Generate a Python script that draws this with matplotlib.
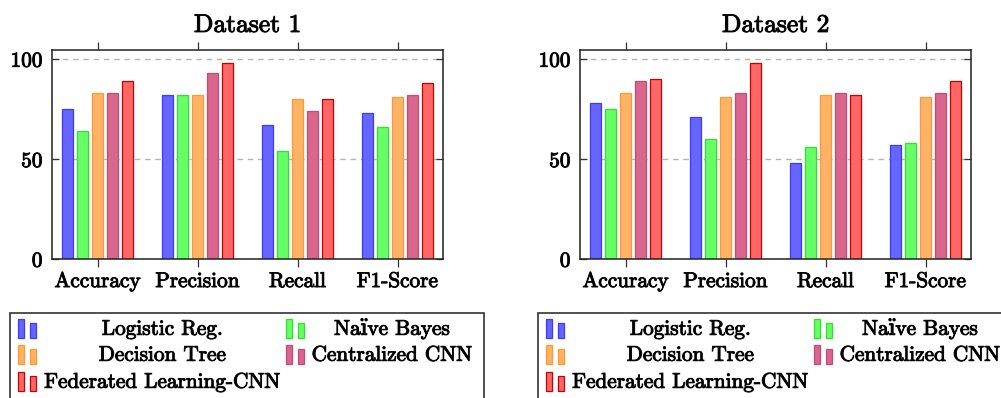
import matplotlib
matplotlib.use("Agg")
import matplotlib.pyplot as plt
import matplotlib.patheffects as pe
import numpy as np
from matplotlib.patches import Rectangle

# scores per metric for each model
metrics = ["Accuracy", "Precision", "Recall", "F1-Score"]
models = ["Logistic Reg.", "Naïve Bayes", "Decision Tree", "Centralized CNN",
          "Federated Learning-CNN"]

ds1_logreg = [75, 82, 67, 73]
ds1_bayes = [64, 82, 54, 66]
ds1_tree = [83, 82, 80, 81]
ds1_ccnn = [83, 93, 74, 82]
ds1_flcnn = [89, 98, 80, 88]

ds2_logreg = [78, 71, 48, 57]
ds2_bayes = [75, 60, 56, 58]
ds2_tree = [83, 81, 82, 81]
ds2_ccnn = [89, 83, 83, 83]
ds2_flcnn = [90, 98, 82, 89]

titles = ["Dataset 1", "Dataset 2"]

# pgfplots-style draw colour / fill colour (colour!60)
edge_colors = ["#3a3aff", "#30e030", "#ff9a33", "#c8487a", "#c80000"]
fill_colors = ["#6666ff", "#66ff66", "#ffb366", "#d9668c", "#ff6666"]

plt.rcParams["font.family"] = ["cmr10", "DejaVu Serif"]
plt.rcParams["font.size"] = 15.3
plt.rcParams["axes.formatter.use_mathtext"] = True

# slightly heavier strokes for the Computer Modern glyphs
heavy = [pe.withStroke(linewidth=0.7, foreground="#111111")]

W, H = 1001, 398
fig = plt.figure(figsize=(W / 100, H / 100), dpi=100)


def px_to_fig(x, y):
    return x / W, 1 - y / H


def draw_panel(left_px, title, series):
    x0, y0 = px_to_fig(left_px, 259)
    ax = fig.add_axes([x0, y0, 391 / W, 209 / H])
    x = np.arange(len(metrics))
    offsets = np.arange(len(series)) - (len(series) - 1) / 2
    for k, vals in enumerate(series):
        ax.bar(x + offsets[k] * 0.15, vals, width=0.118,
               color=fill_colors[k], edgecolor=edge_colors[k], linewidth=0.9)
    ax.set_xlim(-0.455, 3.455)
    ax.set_ylim(0, 104.5)
    ax.set_xticks(x)
    ax.set_xticklabels(metrics)
    ax.set_yticks([0, 50, 100])
    ax.set_axisbelow(True)
    ax.yaxis.grid(True, color="#b4b4b4", linestyle=(0, (4, 3.4)), linewidth=1.0)
    ax.tick_params(axis="x", direction="out", top=True, bottom=True,
                   length=6, width=0.9, pad=3, color="#333333")
    ax.tick_params(axis="y", direction="in", left=True, right=True,
                   length=5, width=0.9, pad=6, color="#333333")
    for sp in ax.spines.values():
        sp.set_linewidth(1.1)
        sp.set_color("#222222")
    t = ax.set_title(title, pad=13)
    for lab in [t] + ax.get_xticklabels() + ax.get_yticklabels():
        lab.set_path_effects(heavy)
    return ax


def draw_legend(left_px):
    bx, by = px_to_fig(left_px, 313)
    box = Rectangle((bx, by - 0.4), 474 / W, 0.4, transform=fig.transFigure,
                    facecolor="white", edgecolor="#333333", linewidth=1.2)
    fig.add_artist(box)
    rows_y = [329, 355, 382]
    col_icon = [left_px + 8, left_px + 276]
    col_text = [left_px + 152.5, left_px + 382]
    for k, name in enumerate(models):
        r, c = divmod(k, 2)
        yc = rows_y[r]
        ix = col_icon[c]
        for dx, hgt in [(0, 19), (12, 15)]:
            rx, ry = px_to_fig(ix + dx, yc + 9)
            fig.add_artist(Rectangle((rx, ry), 6 / W, hgt / H,
                                     transform=fig.transFigure,
                                     facecolor=fill_colors[k],
                                     edgecolor=edge_colors[k], linewidth=0.9))
        tx, ty = px_to_fig(col_text[c], yc)
        fig.text(tx, ty, name, ha="center", va="center", path_effects=heavy)


draw_panel(52, titles[0], [ds1_logreg, ds1_bayes, ds1_tree, ds1_ccnn, ds1_flcnn])
draw_panel(580, titles[1], [ds2_logreg, ds2_bayes, ds2_tree, ds2_ccnn, ds2_flcnn])
draw_legend(10)
draw_legend(538)

fig.savefig("out.png", dpi=100)
